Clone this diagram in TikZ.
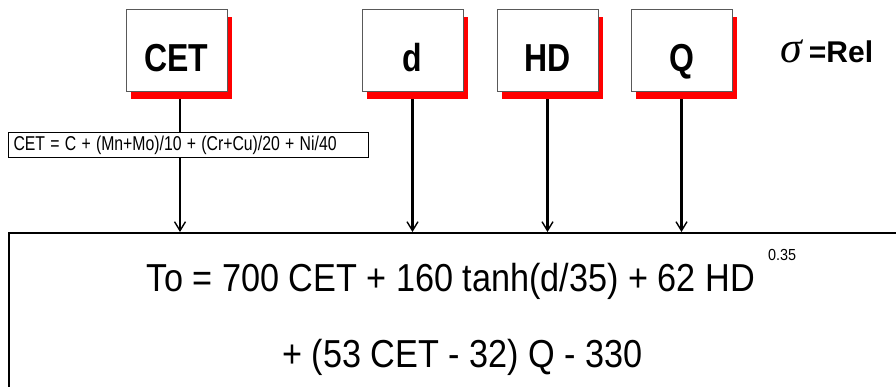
\documentclass[tikz,border=0pt]{standalone}
\usepackage{fontspec}
\usepackage{graphicx}
\setmainfont{Liberation Sans}
\newfontfamily\sigfont{Liberation Serif}
\usetikzlibrary{shadows,arrows.meta}
\tikzset{
  varbox/.style={draw=black!65, line width=1pt, fill=white, rectangle,
    minimum width=101pt, minimum height=82pt, inner sep=0pt,
    text height=42pt, text depth=0pt,
    font=\fontsize{39}{44}\selectfont\bfseries,
    drop shadow={shadow xshift=5pt, shadow yshift=-7pt, fill=red, opacity=1}},
  feed/.style={line width=2.4pt},
  feedarrow/.style={line width=2.4pt, -{Straight Barb[length=9pt,width=11pt,line width=1.4pt]}},
  eqtext/.style={font=\fontsize{39}{44}\selectfont, inner sep=0pt, anchor=base}
}
\begin{document}
\begin{tikzpicture}[x=1pt,y=-1pt]
\useasboundingbox (0,0) rectangle (896,387);
\fill[white] (0,0) rectangle (896,387);
% big result box
\node[draw=black, line width=2.4pt, rectangle, anchor=north west, minimum width=900pt, minimum height=170pt, inner sep=0pt] (res) at (8,232) {};
\coordinate (cetx) at (180,0);
\node[draw=black, line width=1pt, fill=white, rectangle, anchor=west, minimum height=25pt,
  inner xsep=5pt, inner ysep=0pt, text width=350pt, align=left,
  font=\fontsize{20}{24}\selectfont] (cetf) at (8,145.5)
  {\scalebox{0.79}[1]{CET = C + (Mn+Mo)/10 + (Cr+Cu)/20 + Ni/40}};
% variable boxes
\node[varbox] (cet) at (176.5,51) {\scalebox{0.82}[1]{CET}};
\node[varbox] (d) at (412.5,51) {\scalebox{0.82}[1]{d}};
\node[varbox] (hd) at (547.5,51) {\scalebox{0.82}[1]{HD}};
\node[varbox] (q) at (681.5,51) {\scalebox{0.82}[1]{Q}};
% connectors
\draw[feed] ([yshift=-7pt]cetx |- cet.south) -- (cetx |- cetf.north);
\draw[feedarrow] (cetx |- cetf.south) -- (cetx |- res.north);
\draw[feedarrow] ([yshift=-7pt]d.south) -- (d.south |- res.north);
\draw[feedarrow] ([yshift=-7pt]hd.south) -- (hd.south |- res.north);
\draw[feedarrow] ([yshift=-7pt]q.south) -- (q.south |- res.north);
% sigma = Rel
\node[inner sep=0pt, anchor=base west, font=\fontsize{30}{34}\selectfont\bfseries] (rel) at (780,63)
  {{\sigfont\mdseries\itshape\fontsize{44}{48}\selectfont σ}\hspace{7pt}=Rel};
% equation
\node[eqtext] (eq1) at (451,291) {\scalebox{0.878}[1]{To = 700 CET + 160 tanh(d/35) + 62 HD}};
\node[inner sep=0pt, anchor=base west, font=\fontsize{16}{18}\selectfont] (exp) at (768,260) {\scalebox{0.9}[1]{0.35}};
\node[eqtext] (eq2) at (462.5,367) {\scalebox{0.878}[1]{+ (53 CET - 32) Q - 330}};
\end{tikzpicture}
\end{document}
